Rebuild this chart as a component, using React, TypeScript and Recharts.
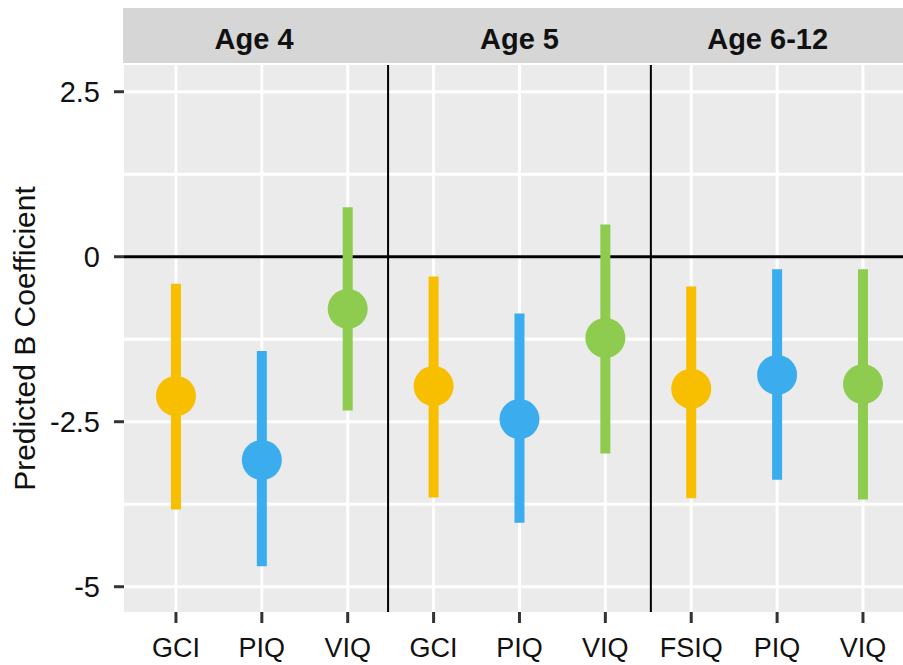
import React from 'react'
import { CartesianGrid, ComposedChart, ErrorBar, ReferenceLine, Scatter, XAxis, YAxis } from 'recharts'

// measures along the x axis, grouped by age facet
const measures = ['GCI', 'PIQ', 'VIQ', 'GCI', 'PIQ', 'VIQ', 'FSIQ', 'PIQ', 'VIQ']
const ageGroups = ['Age 4', 'Age 5', 'Age 6-12']
const estimates = [-2.11, -3.08, -0.79, -1.96, -2.46, -1.23, -2.0, -1.79, -1.93]
const lowerCI = [-3.83, -4.69, -2.33, -3.65, -4.03, -2.98, -3.66, -3.38, -3.68]
const upperCI = [-0.41, -1.43, 0.75, -0.3, -0.86, 0.49, -0.45, -0.19, -0.19]
const yTicks = [2.5, 0, -2.5, -5]
const yMinorTicks = [1.25, -1.25, -3.75]

const WIDTH = 903
const HEIGHT = 665
const PLOT_LEFT = 124
const PLOT_TOP = 65
const X_MIN = -0.605
const X_MAX = 8.466
const Y_MIN = -5.383
const Y_MAX = 2.905
const STEP = (WIDTH - PLOT_LEFT) / (X_MAX - X_MIN)
const FACET_BREAKS = [2.47, 5.53]
const STRIP_LABEL_POS = [0.91, 4.0, 6.89]
const STRIP_TOP = 8
const STRIP_H = 55

const GOLD = '#F7BF00'
const BLUE = '#3BADEE'
const GREEN = '#8ECC4F'
const FONT = '"Liberation Sans", Arial, Helvetica, sans-serif'

const seriesDefs = [
  { key: 'full', color: GOLD },
  { key: 'piq', color: BLUE },
  { key: 'viq', color: GREEN },
]

const groupOf = (m: string) => (m === 'PIQ' ? 'piq' : m === 'VIQ' ? 'viq' : 'full')

const rows = measures.map((m, i) => ({
  pos: i,
  measure: m,
  group: groupOf(m),
  est: estimates[i],
  err: [estimates[i] - lowerCI[i], upperCI[i] - estimates[i]],
}))

// facet strip drawn above the panel, anchored on a reference line's x position
function StripShape(props: any, index: number) {
  const x = props.x1
  const pos = STRIP_LABEL_POS[index]
  const px = (v: number) => x + (v - pos) * STEP
  const lo = index === 0 ? X_MIN : FACET_BREAKS[index - 1]
  const hi = index === ageGroups.length - 1 ? X_MAX : FACET_BREAKS[index]
  return (
    <g>
      <rect x={px(lo) - 1} y={STRIP_TOP} width={px(hi) - px(lo) + 2} height={STRIP_H} fill="#D6D6D6" />
      <text x={x} y={STRIP_TOP + 41} textAnchor="middle" fontSize={29} fontWeight="bold" fill="#111" fontFamily={FONT}>
        {ageGroups[index]}
      </text>
    </g>
  )
}

export default function App() {
  return (
    <div style={{ position: 'absolute', left: 0, top: 0, width: WIDTH, height: HEIGHT, background: '#fff', fontFamily: FONT }}>
      <ComposedChart width={WIDTH} height={HEIGHT} margin={{ top: PLOT_TOP, right: 0, bottom: 0, left: 0 }}>
        <CartesianGrid
          fill="#EBEBEB"
          stroke="#fff"
          strokeWidth={3}
          horizontalValues={[...yTicks, ...yMinorTicks]}
          verticalValues={measures.map((_, i) => i)}
        />
        <XAxis
          type="number"
          dataKey="pos"
          domain={[X_MIN, X_MAX]}
          allowDataOverflow
          ticks={measures.map((_, i) => i)}
          interval={0}
          tickFormatter={(v: number) => measures[Math.round(v)]}
          height={53}
          axisLine={false}
          tickLine={{ stroke: '#333', strokeWidth: 3 }}
          tickSize={11}
          tickMargin={15}
          tick={{ fontSize: 27, fill: '#111' }}
        />
        <YAxis
          type="number"
          dataKey="est"
          domain={[Y_MIN, Y_MAX]}
          allowDataOverflow
          ticks={yTicks}
          interval={0}
          width={PLOT_LEFT}
          axisLine={false}
          tickLine={{ stroke: '#333', strokeWidth: 3 }}
          tickSize={10}
          tickMargin={14}
          tick={{ fontSize: 29, fill: '#111' }}
          label={{
            value: 'Predicted B Coefficient',
            angle: -90,
            position: 'insideLeft',
            offset: 24,
            style: { textAnchor: 'middle', fontSize: 30, fill: '#111' },
          }}
        />
        {STRIP_LABEL_POS.map((p, i) => (
          <ReferenceLine key={'strip' + i} x={p} stroke="none" shape={(sp: any) => StripShape(sp, i)} />
        ))}
        <ReferenceLine y={0} stroke="#000" strokeWidth={3} />
        {FACET_BREAKS.map((b) => (
          <ReferenceLine key={b} x={b} stroke="#000" strokeWidth={2} />
        ))}
        {seriesDefs.map((s) => (
          <Scatter
            key={s.key}
            data={rows.filter((r) => r.group === s.key)}
            dataKey="est"
            fill={s.color}
            isAnimationActive={false}
            shape={(p: any) => <circle cx={p.cx} cy={p.cy} r={20} fill={s.color} />}
          >
            <ErrorBar dataKey="err" direction="y" width={0} strokeWidth={10} stroke={s.color} isAnimationActive={false} />
          </Scatter>
        ))}
      </ComposedChart>
    </div>
  )
}
